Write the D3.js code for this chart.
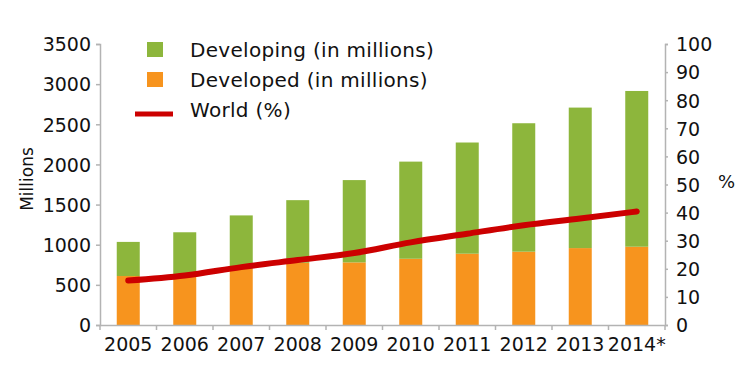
<!DOCTYPE html>
<html>
<head>
<meta charset="utf-8">
<script src="https://cdn.jsdelivr.net/npm/d3@7"></script>
<style>
  body { margin: 0; background: #fff; }
  text { font-family: "DejaVu Sans", sans-serif; fill: #111; }
</style>
</head>
<body>
<div id="chart"></div>
<script>
const years = ["2005", "2006", "2007", "2008", "2009", "2010", "2011", "2012", "2013", "2014*"];
const developed = [610, 635, 700, 775, 780, 825, 888, 913, 958, 975];
const developing = [425, 520, 665, 780, 1025, 1210, 1385, 1600, 1750, 1940];
const worldPct = [15.8, 17.6, 20.6, 23.1, 25.6, 29.4, 32.5, 35.5, 37.9, 40.4];
const leftTicks = [0, 500, 1000, 1500, 2000, 2500, 3000, 3500];
const rightTicks = [0, 10, 20, 30, 40, 50, 60, 70, 80, 90, 100];

const width = 745;
const height = 375;
const margin = { top: 44, right: 80, bottom: 50, left: 100 };

const green = "#8db63c";
const orange = "#f7941e";
const red = "#cc0000";
const axisGrey = "#b3b3b3";
const font = "DejaVu Sans, sans-serif";

const svg = d3.select("#chart")
  .append("svg")
  .attr("width", width)
  .attr("height", height);

const x = d3.scaleBand()
  .domain(years)
  .range([margin.left, width - margin.right]);

const yL = d3.scaleLinear().domain([0, 3500]).range([height - margin.bottom, margin.top]);
const yR = d3.scaleLinear().domain([0, 100]).range([height - margin.bottom, margin.top]);

/* Bars */
const stackData = years.map((yr, i) => ({ year: yr, developed: developed[i], developing: developing[i] }));
const stacked = d3.stack().keys(["developed", "developing"])(stackData);
const colors = { developed: orange, developing: green };

svg.append("g")
  .selectAll("g")
  .data(stacked)
  .join("g")
  .attr("fill", (d) => colors[d.key])
  .selectAll("rect")
  .data((d) => d)
  .join("rect")
  .attr("x", (d) => x(d.data.year) + x.bandwidth() / 2 - 11.5)
  .attr("width", 23)
  .attr("y", (d) => yL(d[1]))
  .attr("height", (d) => yL(d[0]) - yL(d[1]));

/* Axes */
const leftAxis = svg.append("g")
  .attr("transform", `translate(${margin.left},0)`)
  .call(d3.axisLeft(yL).tickValues(leftTicks).tickFormat(d3.format("d")).tickSize(4).tickPadding(5));

const rightAxis = svg.append("g")
  .attr("transform", `translate(${width - margin.right},0)`)
  .call(d3.axisRight(yR).tickValues(rightTicks).tickSize(3).tickPadding(8));

const bottomAxis = svg.append("g")
  .attr("transform", `translate(0,${height - margin.bottom})`)
  .call(d3.axisBottom(x).tickSize(0).tickPadding(13));

// boundary ticks between categories
bottomAxis.append("g")
  .selectAll("line")
  .data(years.concat(["end"]))
  .join("line")
  .attr("x1", (d, i) => i < years.length ? x(d) : x.range()[1])
  .attr("x2", (d, i) => i < years.length ? x(d) : x.range()[1])
  .attr("y1", 0)
  .attr("y2", 5)
  .attr("stroke", axisGrey)
  .attr("stroke-width", 1.5);

[leftAxis, rightAxis, bottomAxis].forEach((g) => {
  g.selectAll(".domain").attr("stroke", axisGrey).attr("stroke-width", 1.5);
  g.selectAll(".tick line").attr("stroke", axisGrey).attr("stroke-width", 1.5);
  g.selectAll(".tick text").attr("font-size", 19).attr("fill", "#111")
    .attr("font-family", font);
});
leftAxis.selectAll(".tick text").attr("dy", "0.36em");
rightAxis.selectAll(".tick text").attr("dy", "0.36em");

/* World line */
const line = d3.line()
  .x((d, i) => x(years[i]) + x.bandwidth() / 2)
  .y((d) => yR(d))
  .curve(d3.curveMonotoneX);

svg.append("path")
  .datum(worldPct)
  .attr("fill", "none")
  .attr("stroke", red)
  .attr("stroke-width", 6)
  .attr("stroke-linecap", "round")
  .attr("stroke-linejoin", "round")
  .attr("d", line);

/* Axis titles */
svg.append("text")
  .attr("transform", "translate(33,179) rotate(-90)")
  .attr("text-anchor", "middle")
  .attr("font-size", 17)
  .text("Millions");

svg.append("text")
  .attr("x", 718)
  .attr("y", 188)
  .attr("font-size", 18)
  .text("%");

/* Legend */
const legend = svg.append("g");
const legendItems = [
  { label: "Developing (in millions)", type: "rect", color: green },
  { label: "Developed (in millions)", type: "rect", color: orange },
  { label: "World (%)", type: "line", color: red },
];
legendItems.forEach((item, i) => {
  const yBase = 57 + i * 30;
  if (item.type === "rect") {
    legend.append("rect")
      .attr("x", 147)
      .attr("y", yBase - 15)
      .attr("width", 16)
      .attr("height", 15)
      .attr("fill", item.color);
  } else {
    legend.append("line")
      .attr("x1", 135)
      .attr("x2", 173)
      .attr("y1", yBase - 3)
      .attr("y2", yBase - 3)
      .attr("stroke", item.color)
      .attr("stroke-width", 5);
  }
  legend.append("text")
    .attr("x", 190)
    .attr("y", yBase)
    .attr("font-size", 20)
    .attr("letter-spacing", "0.3px")
    .text(item.label);
});
</script>
</body>
</html>
